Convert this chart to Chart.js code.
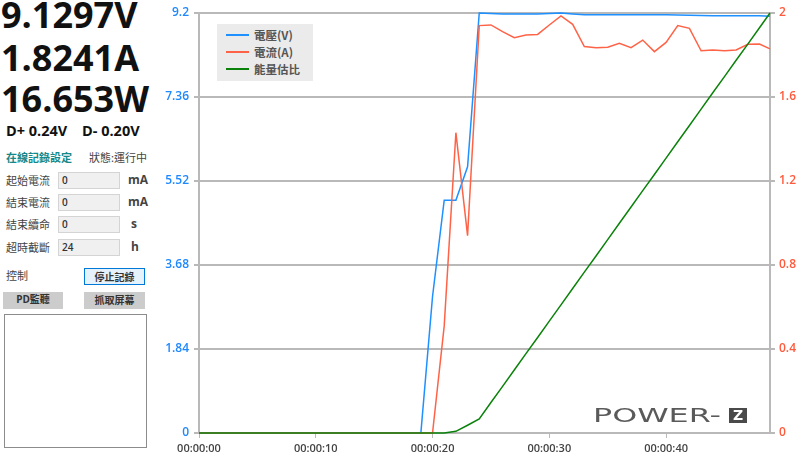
<!DOCTYPE html>
<html>
<head>
<meta charset="utf-8">
<script src="https://cdn.jsdelivr.net/npm/chart.js@4.4.1/dist/chart.umd.min.js"></script>
<style>
  body { margin: 0; width: 800px; height: 457px; overflow: hidden; background: #fff; position: relative;
         font-family: "Open Sans", "Noto Sans CJK TC", sans-serif; color: #333; }
  .abs { position: absolute; white-space: nowrap; }
  .big { font-weight: 700; font-size: 36px; line-height: 36px; color: #111; left: 1px; }
  .dline { font-weight: 700; font-size: 14.5px; line-height: 15px; color: #111; top: 123px; }
  .cjk { font-family: "Noto Sans CJK TC", sans-serif; font-size: 11px; line-height: 14px; color: #444; }
  .inp { background: #f0f0f0; border: 1px solid #d4d4d4; box-sizing: border-box; width: 62px; height: 17px;
         left: 58px; font-size: 10px; line-height: 15px; padding-left: 3px; color: #333; font-weight: 600; }
  .unit { font-weight: 700; font-size: 12px; line-height: 14px; color: #444; }
  .btn { box-sizing: border-box; height: 17px; text-align: center; font-family: "Noto Sans CJK TC", sans-serif;
         font-size: 10px; line-height: 15px; font-weight: 700; color: #333; }
  #chartWrap { position: absolute; left: 150px; top: 0; }
  #legend { position: absolute; left: 217px; top: 24px; width: 96px; height: 57px; background: #ebebeb; }
  .lg { position: absolute; left: 9px; height: 14px; }
  .lg i { position: absolute; left: 0; top: 6px; width: 23px; height: 2px; }
  .lg span { position: absolute; left: 28px; top: -1px; font-family: "Noto Sans CJK TC", sans-serif; font-size: 11.5px;
             font-weight: 700; color: #555; white-space: nowrap; }
  #logo { position: absolute; left: 593px; top: 405px; height: 20px; }
  #logoText { position: absolute; left: 0; top: 0; font-family: "DejaVu Sans", sans-serif; font-weight: 400;
              font-size: 20px; line-height: 20px; color: #5a5a5a; transform-origin: left top; white-space: nowrap; }
  #logoZ { position: absolute; left: 136px; top: 3px; width: 18px; height: 15px; background: #4a4a4a; color: #fff;
           font-family: "DejaVu Sans", sans-serif; font-size: 14px; line-height: 15px; text-align: center; font-weight: 700; }
</style>
</head>
<body>
<div class="abs big" style="top:-3px">9.1297V</div>
<div class="abs big" style="top:40px">1.8241A</div>
<div class="abs big" style="top:81px">16.653W</div>
<div class="abs dline" style="left:6px">D+ 0.24V</div>
<div class="abs dline" style="left:82px">D- 0.20V</div>

<div class="abs cjk" style="left:6px;top:150px;color:#14898a;font-weight:600">在線記錄設定</div>
<div class="abs cjk" style="left:89px;top:150px">狀態:運行中</div>

<div class="abs cjk" style="left:6px;top:173px">起始電流</div>
<div class="abs inp" style="top:172px">0</div>
<div class="abs unit" style="left:128px;top:173px">mA</div>

<div class="abs cjk" style="left:6px;top:195px">結束電流</div>
<div class="abs inp" style="top:194px">0</div>
<div class="abs unit" style="left:128px;top:195px">mA</div>

<div class="abs cjk" style="left:6px;top:217px">結束續命</div>
<div class="abs inp" style="top:216px">0</div>
<div class="abs unit" style="left:131px;top:217px">s</div>

<div class="abs cjk" style="left:6px;top:240px">超時截斷</div>
<div class="abs inp" style="top:239px">24</div>
<div class="abs unit" style="left:131px;top:240px">h</div>

<div class="abs cjk" style="left:6px;top:268px">控制</div>
<div class="abs btn" style="left:84px;top:268px;width:61px;background:#e5f1fb;border:1px solid #0078d7">停止記錄</div>
<div class="abs btn" style="left:3px;top:292px;width:60px;background:#cccccc;font-family:'Open Sans','Noto Sans CJK TC',sans-serif">PD監聽</div>
<div class="abs btn" style="left:84px;top:292px;width:61px;background:#cccccc">抓取屏幕</div>
<div class="abs" style="left:4px;top:314px;width:141px;height:132px;border:1px solid #8c8c8c"></div>

<div id="chartWrap"><canvas id="myChart" width="650" height="457"></canvas></div>

<div id="legend">
  <div class="lg" style="top:4px"><i style="background:#1e90ff"></i><span>電壓(V)</span></div>
  <div class="lg" style="top:21px"><i style="background:#ff6347"></i><span>電流(A)</span></div>
  <div class="lg" style="top:38px"><i style="background:#0a820a"></i><span>能量估比</span></div>
</div>

<div id="logo"><div id="logoText">POWER-</div><div id="logoZ">Z</div></div>

<script>
const timeSec = [0, 1, 2, 3, 4, 5, 6, 7, 8, 9, 10, 11, 12, 13, 14, 15, 16, 17, 18, 19,
  20, 21, 22, 23, 24, 25, 26, 27, 28, 29, 30, 31, 32, 33, 34, 35, 36, 37, 38, 39,
  40, 41, 42, 43, 44, 45, 46, 47, 48, 48.9];

const voltage = [0, 0, 0, 0, 0, 0, 0, 0, 0, 0, 0, 0, 0, 0, 0, 0, 0, 0, 0, 0,
  2.99, 5.10, 5.10, 5.83, 9.20, 9.19, 9.18, 9.18, 9.18, 9.18, 9.19, 9.20, 9.18, 9.16, 9.16, 9.16, 9.16, 9.16, 9.16, 9.16,
  9.16, 9.155, 9.15, 9.145, 9.14, 9.14, 9.14, 9.14, 9.14, 9.13];

const current = [0, 0, 0, 0, 0, 0, 0, 0, 0, 0, 0, 0, 0, 0, 0, 0, 0, 0, 0, 0,
  0, 0.51, 1.43, 0.94, 1.94, 1.943, 1.911, 1.882, 1.895, 1.898, 1.943, 1.986, 1.946, 1.840, 1.835, 1.837, 1.856, 1.835, 1.871, 1.816,
  1.860, 1.940, 1.927, 1.820, 1.824, 1.820, 1.824, 1.851, 1.852, 1.829];

const energyRatio = [0, 0, 0, 0, 0, 0, 0, 0, 0, 0, 0, 0, 0, 0, 0, 0, 0, 0, 0, 0,
  0, 0, 0.008, 0.037, 0.067, 0.145, 0.222, 0.300, 0.378, 0.455, 0.533, 0.610, 0.688, 0.766, 0.843, 0.921, 0.999, 1.076, 1.154, 1.231,
  1.309, 1.387, 1.464, 1.542, 1.620, 1.697, 1.775, 1.852, 1.930, 2.0];

const voltTicks = [0, 1.84, 3.68, 5.52, 7.36, 9.2];
const ampTicks = [0, 0.4, 0.8, 1.2, 1.6, 2];
const timeTicks = [0, 10, 20, 30, 40];

function pts(ys) {
  return timeSec.map((t, i) => ({ x: t, y: ys[i] }));
}

function pad2(n) {
  return String(n).padStart(2, '0');
}

const gridGray = '#b9b9b9';
Chart.defaults.font.family = '"Open Sans", sans-serif';

const ctx = document.getElementById('myChart').getContext('2d');
window.myChart = new Chart(ctx, {
  type: 'line',
  data: {
    datasets: [
      { label: '能量估比', data: pts(energyRatio), yAxisID: 'y1', borderColor: '#0a820a', borderWidth: 1.5 },
      { label: '電流(A)', data: pts(current), yAxisID: 'y1', borderColor: '#ff6347', borderWidth: 1.5 },
      { label: '電壓(V)', data: pts(voltage), yAxisID: 'y', borderColor: '#1e90ff', borderWidth: 1.5 },
    ],
  },
  options: {
    responsive: false,
    animation: false,
    devicePixelRatio: 1,
    layout: { padding: { top: 13, left: 0, right: 0, bottom: 0 } },
    elements: { point: { radius: 0 }, line: { tension: 0 } },
    datasets: { line: { clip: 4 } },
    plugins: { legend: { display: false }, tooltip: { enabled: false } },
    scales: {
      x: {
        type: 'linear',
        min: 0,
        max: 48.9,
        afterBuildTicks: s => { s.ticks = timeTicks.map(v => ({ value: v })); },
        afterFit: s => { s.height = 24; },
        ticks: {
          callback: v => '00:00:' + pad2(v),
          color: '#444',
          font: { size: 11, weight: '600' },
          padding: 4,
          maxRotation: 0,
        },
        grid: { drawOnChartArea: false, color: gridGray, tickLength: 5, tickWidth: 1 },
        border: { color: gridGray, width: 2 },
      },
      y: {
        position: 'left',
        min: 0,
        max: 9.2,
        afterBuildTicks: s => { s.ticks = voltTicks.map(v => ({ value: v })); },
        afterFit: s => { s.width = 49; },
        ticks: { callback: v => String(v), color: '#1e88ff', font: { size: 12, weight: '600' }, padding: 5 },
        grid: { color: gridGray, lineWidth: 2, tickLength: 5 },
        border: { color: gridGray, width: 2 },
      },
      y1: {
        position: 'right',
        min: 0,
        max: 2,
        afterBuildTicks: s => { s.ticks = ampTicks.map(v => ({ value: v })); },
        afterFit: s => { s.width = 30; },
        ticks: { callback: v => String(v), color: '#ff5a3c', font: { size: 12, weight: '600' }, padding: 4 },
        grid: { drawOnChartArea: false, color: gridGray, lineWidth: 2, tickLength: 5 },
        border: { color: gridGray, width: 2 },
      },
    },
  },
});

// stretch the logo word to its wide look
const lt = document.getElementById('logoText');
lt.style.transform = 'scaleX(' + (128 / lt.getBoundingClientRect().width) + ')';
</script>
</body>
</html>
